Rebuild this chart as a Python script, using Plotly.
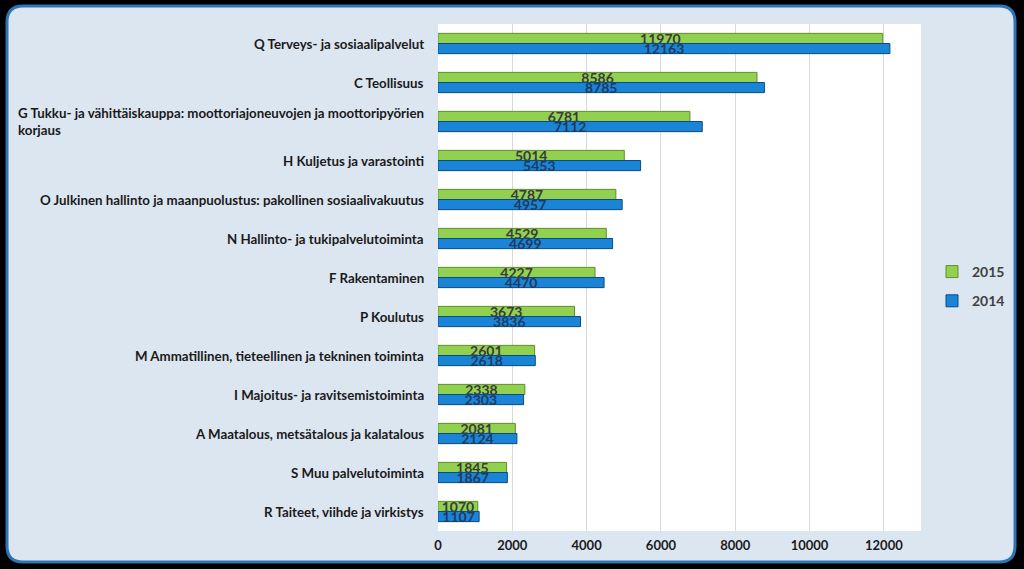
import plotly.graph_objects as go

categories = [
    "Q Terveys- ja sosiaalipalvelut",
    "C Teollisuus",
    "G Tukku- ja vähittäiskauppa: moottoriajoneuvojen ja moottoripyörien<br>korjaus",
    "H Kuljetus ja varastointi",
    "O Julkinen hallinto ja maanpuolustus: pakollinen sosiaalivakuutus",
    "N Hallinto- ja tukipalvelutoiminta",
    "F Rakentaminen",
    "P Koulutus",
    "M Ammatillinen, tieteellinen ja tekninen toiminta",
    "I Majoitus- ja ravitsemistoiminta",
    "A Maatalous, metsätalous ja kalatalous",
    "S Muu palvelutoiminta",
    "R Taiteet, viihde ja virkistys",
]
values_2015 = [11970, 8586, 6781, 5014, 4787, 4529, 4227, 3673, 2601, 2338, 2081, 1845, 1070]
values_2014 = [12163, 8785, 7112, 5453, 4957, 4699, 4470, 3836, 2618, 2303, 2124, 1867, 1107]
x_ticks = [0, 2000, 4000, 6000, 8000, 10000, 12000]
x_tick_text = ["0", "2000", "4000", "6000", "8000", "10000", "12000"]

W, H = 1024, 569
def px(x):
    return x / W
def py(y):
    return 1 - y / H

PL, PR, PT, PB = 438, 921, 24, 531

fig = go.Figure()
fig.add_trace(go.Bar(
    name="2015", y=categories, x=values_2015, orientation="h", legendgroup="a",
    marker=dict(color="#92d050", line=dict(color="#5f8f2a", width=1)),
    text=[str(v) for v in values_2015], textposition="inside", insidetextanchor="middle",
    textfont=dict(family="Lato", size=14, color="#3a3a3a", weight="bold"),
    constraintext="none", cliponaxis=False,
))
fig.add_trace(go.Bar(
    name="2014", y=categories, x=values_2014, orientation="h", legendgroup="b",
    marker=dict(color="#1a85d6", line=dict(color="#0b4a85", width=1)),
    text=[str(v) for v in values_2014], textposition="inside", insidetextanchor="middle",
    textfont=dict(family="Lato", size=14, color="#1f3a5f", weight="bold"),
    constraintext="none", cliponaxis=False,
))

# Category labels as annotations (block right-aligned, lines left-aligned)
for c in categories:
    fig.add_annotation(
        x=px(426), xref="paper", xanchor="right", y=c, yref="y",
        text=c, showarrow=False, align="left",
        font=dict(family="Lato", size=13.3, color="#1a1a1a", weight="bold"),
    )

def rounded(x0, y0, x1, y1, r):
    X0, X1 = px(x0), px(x1)
    Y0, Y1 = py(y0), py(y1)
    rx, ry = r / W, r / H
    return (f"M {X0+rx} {Y0} L {X1-rx} {Y0} Q {X1} {Y0} {X1} {Y0-ry} "
            f"L {X1} {Y1+ry} Q {X1} {Y1} {X1-rx} {Y1} "
            f"L {X0+rx} {Y1} Q {X0} {Y1} {X0} {Y1+ry} "
            f"L {X0} {Y0-ry} Q {X0} {Y0} {X0+rx} {Y0} Z")

fig.update_layout(
    width=W, height=H,
    margin=dict(l=0, r=0, t=0, b=0),
    paper_bgcolor="#000000",
    plot_bgcolor="#ffffff",
    barmode="group", bargap=0.48, bargroupgap=0,
    uniformtext=dict(minsize=14, mode="show"),
    showlegend=True,
    legend=dict(x=px(932), y=py(256), xanchor="left", yanchor="top",
                bgcolor="rgba(0,0,0,0)", itemwidth=30, tracegroupgap=8,
                font=dict(family="Lato", size=14, color="#404040", weight="bold")),
    xaxis=dict(domain=[px(PL), px(PR)], range=[0, 13000], tickvals=x_ticks,
               ticktext=x_tick_text, ticklabelstandoff=5,
               showgrid=True, gridcolor="#d9d9d9", gridwidth=1, zeroline=False,
               showline=False, automargin=False, ticks="",
               tickfont=dict(family="Lato", size=13, color="#1a1a1a", weight="bold")),
    yaxis=dict(domain=[py(PB), py(PT)], autorange="reversed",
               showticklabels=False, showgrid=False, automargin=False,
               showline=False, ticks=""),
    shapes=[
        dict(type="path", xref="paper", yref="paper", layer="below",
             path=rounded(7, 6, 1015, 562, 16),
             fillcolor="#dce6f1", line=dict(color="#2e75b6", width=3)),
        dict(type="rect", xref="paper", yref="paper", layer="below",
             x0=px(PL), x1=px(PR), y0=py(PB), y1=py(PT),
             fillcolor="#ffffff", line=dict(width=0)),
    ],
)

fig.write_html(
    "out.html",
    config={"displayModeBar": False},
    post_script="document.body.style.margin='0';document.body.style.overflow='hidden';document.body.style.background='#000';",
)
